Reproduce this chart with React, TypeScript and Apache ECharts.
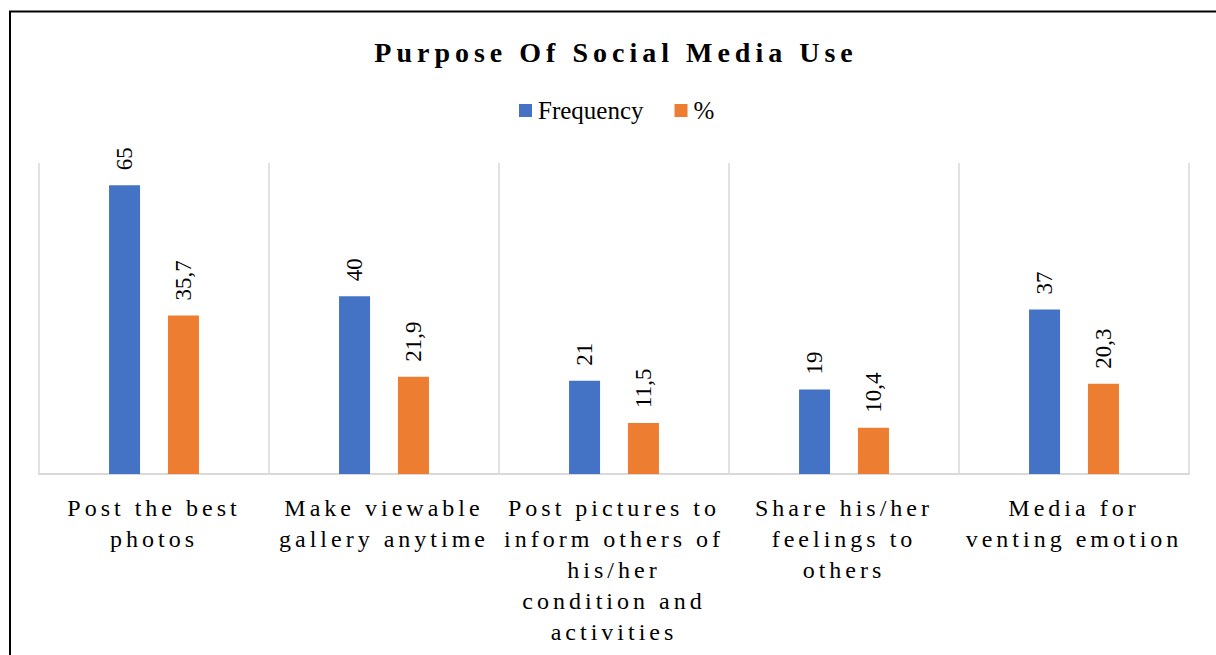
import React, { useEffect, useRef } from "react";
import * as echarts from "echarts";

const categories: string[] = [
  "Post the best\nphotos",
  "Make viewable\ngallery anytime",
  "Post pictures to\ninform others of\nhis/her\ncondition and\nactivities",
  "Share his/her\nfeelings to\nothers",
  "Media for\nventing emotion",
];
const frequency: number[] = [65, 40, 21, 19, 37];
const percent: number[] = [35.7, 21.9, 11.5, 10.4, 20.3];
const seriesNames: string[] = ["Frequency", "%"];
const titleText = "Purpose Of Social Media Use";

const FONT = "'Liberation Serif', 'Times New Roman', serif";

export default function App() {
  const ref = useRef<HTMLDivElement>(null);
  useEffect(() => {
    if (!ref.current) return;
    const chart = echarts.init(ref.current, undefined, { renderer: "svg" });
    const labelCommon = {
      show: true,
      position: "top",
      rotate: 90,
      align: "left",
      verticalAlign: "middle",
      distance: 15,
      fontFamily: FONT,
      fontSize: 23,
      color: "#000",
      formatter: (p: any) => String(p.value).replace(".", ","),
    };
    chart.setOption({
      animation: false,
      backgroundColor: "#fff",
      title: {
        text: titleText,
        left: 616,
        textAlign: "center",
        top: 38,
        padding: 0,
        textStyle: { fontFamily: FONT, fontSize: 28, fontWeight: "bold", color: "#000" },
      },
      legend: {
        data: seriesNames,
        left: 519,
        top: 98,
        padding: 0,
        itemWidth: 13,
        itemHeight: 13,
        itemGap: 31,
        icon: "rect",
        textStyle: { fontFamily: FONT, fontSize: 25, color: "#000", padding: [0, 0, 0, 1] },
      },
      graphic: [
        {
          type: "rect",
          shape: { x: 10, y: 11.5, width: 1300, height: 700 },
          style: { fill: "none", stroke: "#000", lineWidth: 2 },
          silent: true,
        },
      ],
      grid: { left: 39, right: 27, top: 163, bottom: 181 },
      xAxis: {
        type: "category",
        data: categories,
        axisLine: { lineStyle: { color: "#d9d9d9", width: 2 } },
        axisTick: { show: false },
        splitLine: { show: true, interval: 0, lineStyle: { color: "#d9d9d9", width: 1.5 } },
        axisLabel: {
          interval: 0,
          margin: 18,
          fontFamily: FONT,
          fontSize: 24,
          lineHeight: 31,
          color: "#000",
        },
      },
      yAxis: { type: "value", min: 0, max: 70, show: false, splitLine: { show: false } },
      series: [
        {
          name: seriesNames[0],
          type: "bar",
          data: frequency,
          barWidth: 31,
          barGap: "90%",
          itemStyle: { color: "#4472C4" },
          label: labelCommon,
        },
        {
          name: seriesNames[1],
          type: "bar",
          data: percent,
          barWidth: 31,
          barGap: "90%",
          itemStyle: { color: "#ED7D31" },
          label: labelCommon,
        },
      ],
    });
    return () => chart.dispose();
  }, []);
  return (
    <>
      <style>{`
        #chartbox text[style*="24px"] { letter-spacing: 4px; }
        #chartbox text[style*="28px"] { letter-spacing: 5px; }
      `}</style>
      <div
        id="chartbox"
        ref={ref}
        style={{ position: "absolute", left: 0, top: 0, width: 1216, height: 655 }}
      />
    </>
  );
}
